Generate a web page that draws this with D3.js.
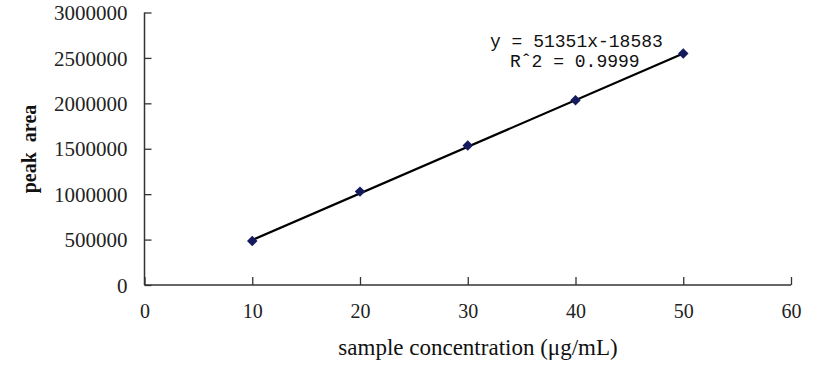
<!DOCTYPE html>
<html><head><meta charset="utf-8">
<script src="https://cdn.jsdelivr.net/npm/d3@7"></script>
<style>body{margin:0;background:#fff}svg{display:block}</style>
</head><body>
<svg id="c" width="827" height="368"></svg>
<script>
const concentrations = [10, 20, 30, 40, 50];
const peakAreas = [484000, 1028000, 1535000, 2035000, 2549000];
const xTicks = [0, 10, 20, 30, 40, 50, 60];
const yTicks = [0, 500000, 1000000, 1500000, 2000000, 2500000, 3000000];
const slope = 51351, intercept = -18583;
const eqLines = ["y = 51351x-18583", "R\u02c62 = 0.9999"];

const svg = d3.select("#c");
const x = d3.scaleLinear().domain([0, 60]).range([144.5, 791]);
const y = d3.scaleLinear().domain([0, 3000000]).range([285, 12.5]);
const axisColor = "#333";

const gy = svg.append("g").attr("transform", `translate(${x(0)},0)`)
  .call(d3.axisLeft(y).tickValues(yTicks).tickSize(-7).tickFormat(d3.format("d")));
gy.select(".domain").attr("stroke", axisColor).attr("stroke-width", 1.5).attr("d", `M-0,${y(3000000)}H0V${y(0)}H0`);
gy.selectAll(".tick line").attr("stroke", axisColor).attr("stroke-width", 1.3);
gy.selectAll("text").attr("x", -17).attr("font-family", "Liberation Serif").attr("font-size", 21).attr("fill", "#222").attr("dy", "0.34em");

const gx = svg.append("g").attr("transform", `translate(0,${y(0)})`)
  .call(d3.axisBottom(x).tickValues(xTicks).tickSize(-8));
gx.select(".domain").attr("stroke", axisColor).attr("stroke-width", 1.5).attr("d", `M${x(0)},0H${x(60)}`);
gx.selectAll(".tick line").attr("stroke", axisColor).attr("stroke-width", 1.3);
gx.selectAll("text").attr("y", 19).attr("font-family", "Liberation Serif").attr("font-size", 20).attr("fill", "#222");

// trendline
const tr = [concentrations[0], concentrations[concentrations.length - 1]];
svg.append("line")
  .attr("x1", x(tr[0])).attr("y1", y(slope * tr[0] + intercept))
  .attr("x2", x(tr[1])).attr("y2", y(slope * tr[1] + intercept))
  .attr("stroke", "#000").attr("stroke-width", 2.2);

// markers
svg.selectAll("path.pt").data(concentrations).join("path").attr("class", "pt")
  .attr("d", d3.symbol(d3.symbolDiamond2, 70))
  .attr("transform", (d, i) => `translate(${x(d)},${y(peakAreas[i])})`)
  .attr("fill", "#141a5e");

// equation
svg.append("text").attr("x", 490).attr("y", 47).attr("font-family", "Liberation Mono")
  .attr("font-size", 18).attr("fill", "#111").text(eqLines[0]);
svg.append("text").attr("x", 510).attr("y", 67).attr("font-family", "Liberation Mono")
  .attr("font-size", 18).attr("fill", "#111").text(eqLines[1]);

// axis titles
svg.append("text").attr("x", 478).attr("y", 355).attr("text-anchor", "middle")
  .attr("font-family", "Liberation Serif").attr("font-size", 23).attr("fill", "#111")
  .text("sample concentration (\u03bcg/mL)");
svg.append("text").attr("transform", "translate(36,149) rotate(-90)").attr("text-anchor", "middle")
  .attr("font-family", "Liberation Serif").attr("font-weight", "bold").attr("font-size", 20)
  .attr("fill", "#111").style("white-space", "pre").text("peak  area");
</script>
</body></html>
